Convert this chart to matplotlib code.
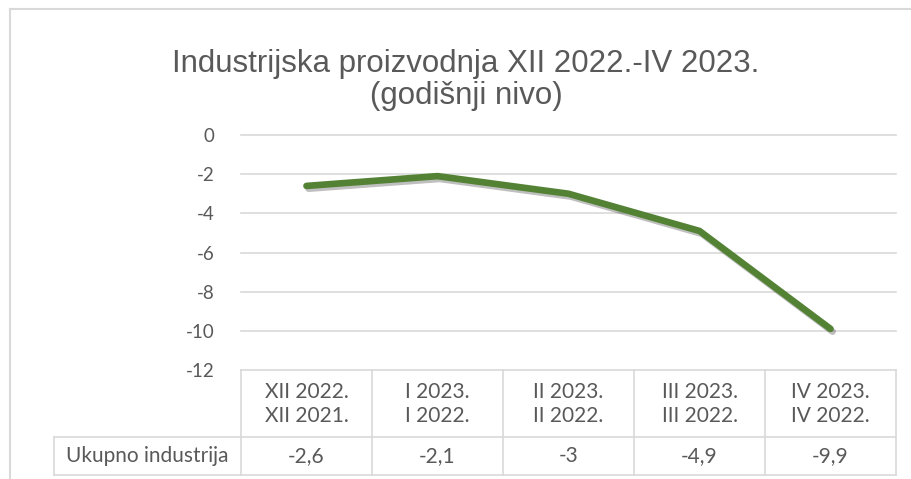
import numpy as np
import matplotlib.pyplot as plt
import matplotlib.patheffects as pe
from matplotlib.lines import Line2D

# data
categories = ['XII 2022.\nXII 2021.', 'I 2023.\nI 2022.', 'II 2023.\nII 2022.',
              'III 2023.\nIII 2022.', 'IV 2023.\nIV 2022.']
values = [-2.6, -2.1, -3, -4.9, -9.9]
series_name = 'Ukupno industrija'
title = 'Industrijska proizvodnja XII 2022.-IV 2023.\n(godišnji nivo)'
yticks = [0, -2, -4, -6, -8, -10, -12]

W, H = 912, 479
fig = plt.figure(figsize=(W / 100, H / 100), dpi=100)
fig.patch.set_facecolor('white')

def fx(px):
    return px / W

def fy(py):
    return 1 - py / H

grid_col = '#d9d9d9'
text_col = '#595959'

# outer chart frame (runs off the right and bottom)
fig.add_artist(Line2D([fx(10), fx(10)], [fy(9), fy(H + 5)], color=grid_col, lw=1.5))
fig.add_artist(Line2D([fx(10), fx(W + 5)], [fy(9), fy(9)], color=grid_col, lw=1.5))

left, right, top, bottom = 241, 896, 135, 370
ax = fig.add_axes([fx(left), fy(bottom), fx(right - left), (bottom - top) / H])
x = np.arange(len(values))
ax.plot(x, values, color='#548235', lw=4.8, solid_capstyle='round', solid_joinstyle='round',
        path_effects=[pe.SimpleLineShadow(offset=(1.5, -2), shadow_color='black', alpha=0.25),
                      pe.Normal()], zorder=3)
ax.set_xlim(-0.5, len(values) - 0.5)
ax.set_ylim(-12, 0)
ax.set_yticks(yticks)
ax.set_yticklabels([str(v) for v in yticks])
ax.tick_params(axis='y', length=0, pad=19, labelsize=13.5, labelcolor=text_col)
for lab in ax.get_yticklabels():
    lab.set_family('Lato')
ax.set_xticks([])
for v in yticks:
    ax.axhline(v, color=grid_col, lw=1.2, zorder=1, clip_on=False)
for s in ax.spines.values():
    s.set_visible(False)

fig.text(fx(466), fy(80), title, ha='center', va='center', fontsize=22.5,
         family='Liberation Sans', color=text_col, linespacing=1.12)

# data table below the axis
col_w = (right - left) / len(categories)
edges = [left + i * col_w for i in range(len(categories) + 1)]
row_top, row_mid, row_bot = bottom, 437, 475
label_left = 54
for e in edges:
    fig.add_artist(Line2D([fx(e), fx(e)], [fy(row_top), fy(row_bot)], color=grid_col, lw=1.2))
fig.add_artist(Line2D([fx(label_left), fx(label_left)], [fy(row_mid), fy(row_bot)], color=grid_col, lw=1.2))
fig.add_artist(Line2D([fx(label_left), fx(right)], [fy(row_mid), fy(row_mid)], color=grid_col, lw=1.2))
fig.add_artist(Line2D([fx(label_left), fx(right)], [fy(row_bot), fy(row_bot)], color=grid_col, lw=1.2))

for i, (cat, v) in enumerate(zip(categories, values)):
    cx = edges[i] + col_w / 2
    fig.text(fx(cx), fy((row_top + row_mid) / 2 + 1), cat, ha='center', va='center',
             fontsize=15, family='Lato', color=text_col, linespacing=1.25)
    fig.text(fx(cx), fy((row_mid + row_bot) / 2), ('%g' % v).replace('.', ','),
             ha='center', va='center', fontsize=15, family='Lato', color=text_col)
fig.text(fx((label_left + left) / 2), fy((row_mid + row_bot) / 2), series_name,
         ha='center', va='center', fontsize=15, family='Lato', color=text_col)

fig.savefig('out.png', dpi=100)
